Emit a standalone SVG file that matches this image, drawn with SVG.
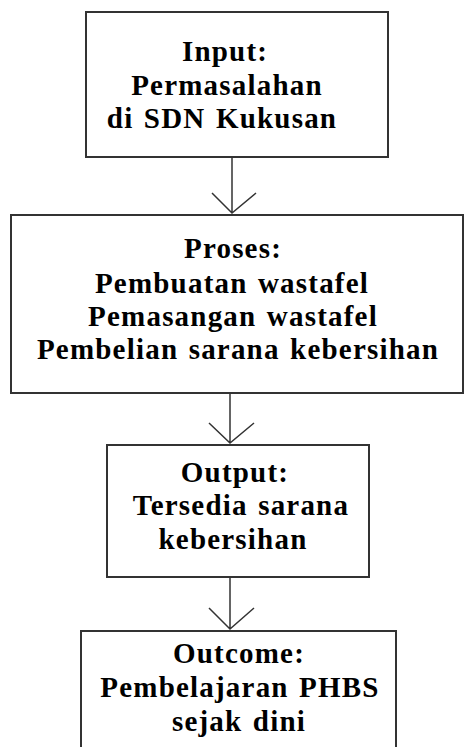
<svg xmlns="http://www.w3.org/2000/svg" width="465" height="747" viewBox="0 0 465 747">
<style>
.box{fill:#fff;stroke:#333;stroke-width:2}
.t{font-family:"Liberation Serif","Times New Roman",serif;font-weight:bold;font-size:29px;letter-spacing:1.2px;word-spacing:2px;fill:#000;text-anchor:middle}
.c{fill:none;stroke:#333;stroke-width:1.5}
</style>
<rect width="465" height="747" fill="#fff"/>
<g id="input">
<rect class="box" x="86" y="12" width="302" height="145"/>
<text class="t" x="225" y="61">Input:</text>
<text class="t" x="227" y="95">Permasalahan</text>
<text class="t" x="222" y="128">di SDN Kukusan</text>
</g>
<g id="proses">
<rect class="box" x="11" y="215" width="452" height="178"/>
<text class="t" x="233" y="258">Proses:</text>
<text class="t" x="232" y="293">Pembuatan wastafel</text>
<text class="t" x="233" y="326">Pemasangan wastafel</text>
<text class="t" x="238" y="359">Pembelian sarana kebersihan</text>
</g>
<g id="output">
<rect class="box" x="107" y="445" width="262" height="132"/>
<text class="t" x="235" y="482">Output:</text>
<text class="t" x="241" y="515">Tersedia sarana</text>
<text class="t" x="233" y="549">kebersihan</text>
</g>
<g id="outcome">
<rect class="box" x="81" y="631" width="315" height="130"/>
<text class="t" x="239" y="663">Outcome:</text>
<text class="t" x="240" y="697">Pembelajaran PHBS</text>
<text class="t" x="239" y="731">sejak dini</text>
</g>
<g id="connectors">
<path class="c" d="M232 157V213M212 193L232 213L256 193"/>
<path class="c" d="M230 393V443M209 423L230 443L254 423"/>
<path class="c" d="M230 577V629M209 608L230 629L254 608"/>
</g>
</svg>
